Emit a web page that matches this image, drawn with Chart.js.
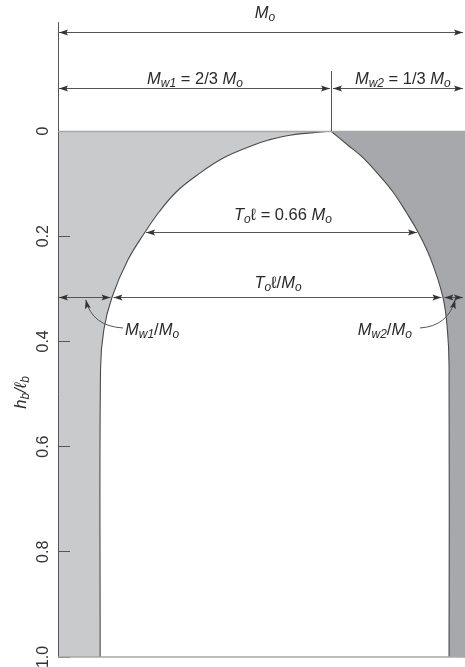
<!DOCTYPE html>
<html>
<head>
<meta charset="utf-8">
<script src="https://cdn.jsdelivr.net/npm/chart.js@4.4.1/dist/chart.umd.min.js"></script>
<style>
  html, body { margin: 0; padding: 0; background: #fff; }
  canvas { display: block; }
</style>
</head>
<body>
<canvas id="chart" width="465" height="667"></canvas>
<script>
// depth ratio h_b/l_b down the axis, and where each boundary sits as a share of M_o
const leftDepth = [0, 0.008, 0.017, 0.027, 0.051, 0.084, 0.116, 0.154, 0.192, 0.245, 0.316, 0.378, 0.451, 1.0];
const leftEdge = [0.667, 0.567, 0.515, 0.477, 0.405, 0.340, 0.289, 0.247, 0.213, 0.171, 0.132, 0.112, 0.104, 0.103];
const rightDepth = [0, 0.027, 0.051, 0.084, 0.116, 0.154, 0.192, 0.245, 0.316, 0.378, 0.445, 1.0];
const rightEdge = [0.667, 0.709, 0.746, 0.785, 0.819, 0.851, 0.880, 0.912, 0.941, 0.952, 0.956, 0.956];

const yTickValues = [0, 0.2, 0.4, 0.6, 0.8, 1.0];
const yTickLabels = ["0", "0.2", "0.4", "0.6", "0.8", "1.0"];

const mwSplit = 2 / 3;     // M_w1 = 2/3 M_o
const topRowDepth = -0.188; // dimension rows drawn above the plot
const midRowDepth = -0.082;
const torqueDepth = 0.192;  // T_o l = 0.66 M_o row
const ratioDepth = 0.316;   // T_o l / M_o row

const FONT = '"Liberation Sans", Arial, sans-serif';
const INK = "#2b2b2b";
const EQ = " = ";

// [text, style]: i = italic, s = subscript
const labels = [
  { x: 0.506, y: -0.226, parts: [["M", "i"], ["o", "is"]] },
  { x: 0.335, y: -0.100, parts: [["M", "i"], ["w1", "is"], [EQ + "2/3 ", ""], ["M", "i"], ["o", "is"]] },
  { x: 0.843, y: -0.100, parts: [["M", "i"], ["w2", "is"], [EQ + "1/3 ", ""], ["M", "i"], ["o", "is"]] },
  { x: 0.550, y: 0.158, parts: [["T", "i"], ["o", "is"], ["\u2113" + EQ + "0.66 ", ""], ["M", "i"], ["o", "is"]] },
  { x: 0.538, y: 0.288, parts: [["T", "i"], ["o", "is"], ["\u2113/", ""], ["M", "i"], ["o", "is"]] },
  { x: 0.230, y: 0.378, parts: [["M", "i"], ["w1", "is"], ["/", ""], ["M", "i"], ["o", "is"]] },
  { x: 0.799, y: 0.378, parts: [["M", "i"], ["w2", "is"], ["/", ""], ["M", "i"], ["o", "is"]] },
];

// curved leaders from the ratio labels to their arrows: start, control, end
const leaders = [
  [[0.159, 0.3745], [0.083, 0.371], [0.068, 0.321]],
  [[0.885, 0.3745], [0.953, 0.371], [0.971, 0.321]],
];

function edgeAt(depths, edges, d) {
  for (let i = 1; i < depths.length; i++) {
    if (d <= depths[i]) {
      const t = (d - depths[i - 1]) / (depths[i] - depths[i - 1]);
      return edges[i - 1] + t * (edges[i] - edges[i - 1]);
    }
  }
  return edges[edges.length - 1];
}

function fontOf(st) {
  return (st.includes("i") ? "italic " : "") + (st.includes("s") ? 12 : 16.5) + "px " + FONT;
}

function drawRich(ctx, parts, cx, cy, rot) {
  let w = 0;
  parts.forEach(([t, st]) => { ctx.font = fontOf(st); w += ctx.measureText(t).width; });
  ctx.save();
  ctx.translate(cx, cy);
  if (rot) ctx.rotate(rot);
  ctx.fillStyle = INK;
  ctx.textAlign = "left";
  ctx.textBaseline = "alphabetic";
  let x = -w / 2;
  parts.forEach(([t, st]) => {
    ctx.font = fontOf(st);
    ctx.fillText(t, x, st.includes("s") ? 8.5 : 5.5);
    x += ctx.measureText(t).width;
  });
  ctx.restore();
}

function head(ctx, x, y, dx, dy) {
  const len = Math.hypot(dx, dy);
  const ux = dx / len, uy = dy / len;
  const L = 9, W = 3;
  ctx.beginPath();
  ctx.moveTo(x, y);
  ctx.lineTo(x - ux * L - uy * W, y - uy * L + ux * W);
  ctx.lineTo(x - ux * L * 0.8, y - uy * L * 0.8);
  ctx.lineTo(x - ux * L + uy * W, y - uy * L - ux * W);
  ctx.closePath();
  ctx.fill();
}

function dimArrow(ctx, x1, x2, y) {
  y = Math.round(y) + 0.5;
  ctx.beginPath();
  ctx.moveTo(x1, y);
  ctx.lineTo(x2, y);
  ctx.stroke();
  head(ctx, x1, y, -1, 0);
  head(ctx, x2, y, 1, 0);
}

const annotate = {
  id: "annotate",
  afterDraw(chart) {
    const { ctx, chartArea: a, scales: { x, y } } = chart;
    const px = (v) => x.getPixelForValue(v);
    const py = (v) => y.getPixelForValue(v);
    ctx.save();

    // top and bottom frame
    ctx.strokeStyle = "#a8a8a8";
    ctx.lineWidth = 1.5;
    ctx.beginPath();
    ctx.moveTo(a.left, py(0) + 0.5); ctx.lineTo(a.right, py(0) + 0.5);
    ctx.moveTo(a.left, py(1)); ctx.lineTo(a.right, py(1));
    ctx.stroke();

    // extension lines
    ctx.strokeStyle = "#555";
    ctx.lineWidth = 1;
    const splitX = Math.round(px(mwSplit)) + 0.5;
    ctx.beginPath();
    ctx.moveTo(a.left + 0.5, py(-0.207)); ctx.lineTo(a.left + 0.5, py(0));
    ctx.moveTo(splitX, py(-0.114)); ctx.lineTo(splitX, py(0));
    ctx.stroke();

    ctx.fillStyle = "#333";
    const g = 1.5;
    // rows above the plot
    dimArrow(ctx, a.left + 1, px(0.99), py(topRowDepth));
    dimArrow(ctx, a.left + 1, splitX - g, py(midRowDepth));
    dimArrow(ctx, splitX + g, px(0.99), py(midRowDepth));

    // T_o l = 0.66 M_o
    const tl = px(edgeAt(leftDepth, leftEdge, torqueDepth));
    const tr = px(edgeAt(rightDepth, rightEdge, torqueDepth));
    dimArrow(ctx, tl + 1, tr - 1, py(torqueDepth));

    // M_w1/M_o, T_o l/M_o, M_w2/M_o
    const rl = px(edgeAt(leftDepth, leftEdge, ratioDepth));
    const rr = px(edgeAt(rightDepth, rightEdge, ratioDepth));
    dimArrow(ctx, a.left + 1, rl - g, py(ratioDepth));
    dimArrow(ctx, rl + g, rr - g, py(ratioDepth));
    dimArrow(ctx, rr + g, px(0.99), py(ratioDepth));

    // leaders
    leaders.forEach(([s, c, e]) => {
      ctx.beginPath();
      ctx.moveTo(px(s[0]), py(s[1]));
      ctx.quadraticCurveTo(px(c[0]), py(c[1]), px(e[0]), py(e[1]));
      ctx.stroke();
      head(ctx, px(e[0]), py(e[1]), px(e[0]) - px(c[0]), py(e[1]) - py(c[1]));
    });

    labels.forEach((l) => drawRich(ctx, l.parts, px(l.x), py(l.y)));

    // axis title h_b / l_b
    drawRich(ctx, [["h", "i"], ["b", "is"], ["/\u2113", "i"], ["b", "is"]], a.left - 38, py(0.497), -Math.PI / 2);

    ctx.restore();
  },
};

new Chart(document.getElementById("chart"), {
  type: "line",
  data: {
    datasets: [
      {
        data: leftDepth.map((d, i) => ({ x: leftEdge[i], y: d })),
        borderColor: "#4a4a4a",
        borderWidth: 1.1,
        backgroundColor: "#c9cacc",
        fill: { value: 0 },
        pointRadius: 0,
        tension: 0.4,
      },
      {
        data: rightDepth.map((d, i) => ({ x: rightEdge[i], y: d })),
        borderColor: "#4a4a4a",
        borderWidth: 1.1,
        backgroundColor: "#a7a8ab",
        fill: { value: 1 },
        pointRadius: 0,
        tension: 0.4,
      },
    ],
  },
  options: {
    indexAxis: "y",
    responsive: false,
    animation: false,
    devicePixelRatio: 1,
    layout: { padding: { top: 131, bottom: 10, left: 0, right: 0 } },
    plugins: {
      legend: { display: false },
      tooltip: { enabled: false },
    },
    scales: {
      x: { type: "linear", min: 0, max: 0.995, display: false },
      y: {
        type: "linear",
        reverse: true,
        min: 0,
        max: 1,
        afterBuildTicks: (s) => { s.ticks = yTickValues.map((v) => ({ value: v })); },
        afterFit: (s) => {
          s.width = 58;
          s.paddingTop = 0;
          s.paddingBottom = 0;
        },
        border: { display: true, color: "#555", width: 1, z: 1 },
        grid: { drawOnChartArea: false, tickLength: -12, color: "#555", lineWidth: 1, z: 1 },
        ticks: {
          minRotation: 90,
          maxRotation: 90,
          crossAlign: "center",
          padding: 15,
          autoSkip: false,
          color: "#333",
          font: { family: FONT, size: 16 },
          callback: (v, i) => yTickLabels[i],
        },
      },
    },
  },
  plugins: [annotate],
});
</script>
</body>
</html>
